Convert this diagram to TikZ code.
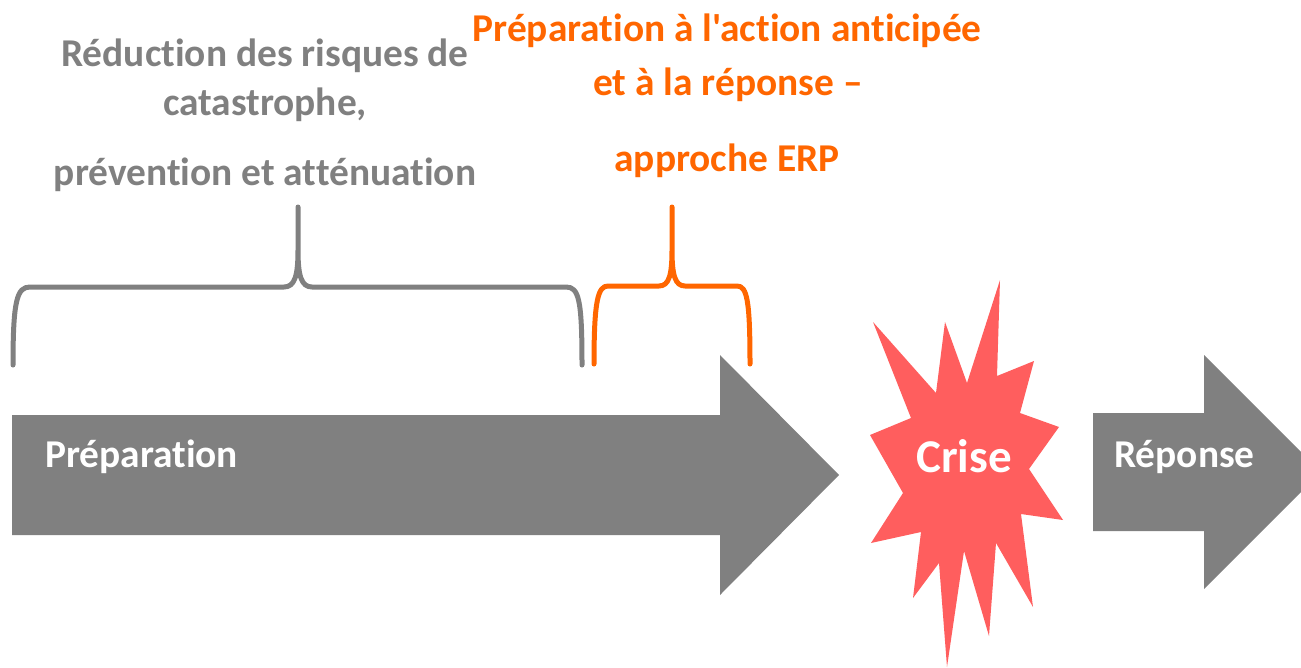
\documentclass[tikz,border=0pt]{standalone}
\usepackage{fontspec}
\newfontfamily\carlito{Carlito}[Ligatures={NoCommon}]
\definecolor{grayc}{HTML}{808080}
\definecolor{orangec}{HTML}{FF6600}
\definecolor{redc}{HTML}{FF5E5E}
\tikzset{
  arrowshape/.style={fill=grayc, draw=none},
  bracegray/.style={draw=grayc, line width=5pt, line cap=round, line join=round},
  braceorange/.style={draw=orangec, line width=5pt, line cap=round, line join=round},
  graytxt/.style={text=grayc, font=\carlito\fontsize{39.4}{47}\selectfont\bfseries, inner sep=0pt, anchor=base},
  orangetxt/.style={text=orangec, font=\carlito\fontsize{39.4}{47}\selectfont\bfseries, inner sep=0pt, anchor=base},
  whitetxt/.style={text=white, font=\carlito\fontsize{39.4}{47}\selectfont\bfseries, inner sep=0pt, anchor=base},
}
\begin{document}
\begin{tikzpicture}[x=1pt,y=-1pt]
\useasboundingbox (0,0) rectangle (1301,667);
\clip (0,0) rectangle (1301,667);
% main arrow
\path[arrowshape] (12,415) -- (720,415) -- (720,355) -- (839,475) -- (720,595) -- (720,535) -- (12,535) -- cycle;
% response arrow
\path[arrowshape] (1093,413) -- (1204,413) -- (1204,355) -- (1321,472) -- (1204,589) -- (1204,531) -- (1093,531) -- cycle;
% starburst
\path[fill=redc] (873,322) -- (936,393) -- (945,322) -- (967,383) -- (1000,280) -- (997,376)
  -- (1034,361) -- (1020,413) -- (1059,427) -- (1029,469) -- (1063,520) -- (1021,514)
  -- (1033,607) -- (996,543) -- (989,636) -- (964,551) -- (947,667) -- (939,563)
  -- (913,598) -- (921,532) -- (871,543) -- (903,493) -- (870,435) -- (911,418) -- cycle;
% braces
\draw[bracegray] (13,365) .. controls (13,300) and (17,287) .. (30,287) -- (284,287)
  .. controls (295,287) and (298,275) .. (298,250) -- (298,207) -- (298,250)
  .. controls (298,275) and (301,287) .. (312,287) -- (566,287)
  .. controls (579,287) and (582,300) .. (582,365);
\draw[braceorange] (594,364) .. controls (594,300) and (598,286) .. (608,286) -- (659,286)
  .. controls (669,286) and (672,275) .. (672,250) -- (672,207) -- (672,250)
  .. controls (672,275) and (675,286) .. (685,286) -- (737,286)
  .. controls (747,286) and (750,300) .. (750,364);
% texts
\node[graytxt] (g1) at (265,66) {Réduction des risques de};
\node[graytxt] (g2) at (265,115) {catastrophe,};
\node[graytxt] (g3) at (265,185) {prévention et atténuation};
\node[orangetxt] (o1) at (727,41) {Préparation à l'action anticipée};
\node[orangetxt] (o2) at (728,95) {et à la réponse –};
\node[orangetxt] (o3) at (727,171) {approche ERP};
\node[whitetxt, anchor=base west] (prep) at (45,467) {Préparation};
\node[whitetxt, font=\carlito\fontsize{47}{56}\selectfont\bfseries] (crise) at (964,472) {Crise};
\node[whitetxt, anchor=base west] (rep) at (1114,467) {Réponse};
\end{tikzpicture}
\end{document}
